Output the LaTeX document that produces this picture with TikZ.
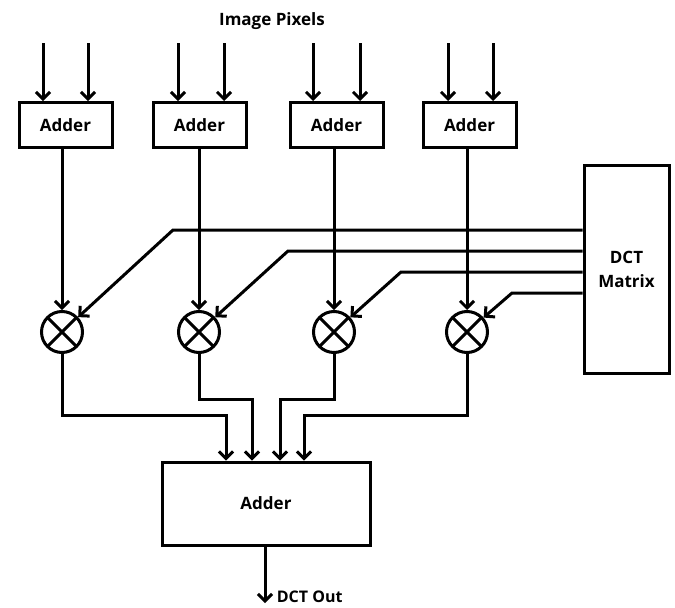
\documentclass[tikz,border=0pt]{standalone}
\usepackage{fontspec}
\setmainfont{Open Sans}
\usetikzlibrary{arrows.meta}

\begin{document}
\begin{tikzpicture}[x = 1pt, y = -1pt, line width = 3pt,
                      font = \fontsize{17}{24}\selectfont\bfseries,
                      >={Straight Barb[length=7pt, width=14pt]},
                      adder/.style = {rectangle, draw, minimum width = 93pt, minimum height = 45pt},
                      mult/.style = {circle, draw, minimum size = 41pt, inner sep = 0pt,
                        path picture = {\draw (path picture bounding box.north west) -- (path picture bounding box.south east)
                                              (path picture bounding box.north east) -- (path picture bounding box.south west);}}]
    \useasboundingbox (0, 0) rectangle (675, 608);
    \node (pix) at (272, 21) {Image Pixels};
    % adders on the pixel inputs
    \node [adder] (a1) at (65.5, 125) {Adder};
    \node [adder] (a2) at (199.5, 125) {Adder};
    \node [adder] (a3) at (336.5, 125) {Adder};
    \node [adder] (a4) at (469.5, 125) {Adder};
    \coordinate (p1) at (43, 43);  \coordinate (p2) at (88, 43);
    \coordinate (p3) at (178, 43); \coordinate (p4) at (224, 43);
    \coordinate (p5) at (313, 43); \coordinate (p6) at (360, 43);
    \coordinate (p7) at (448, 43); \coordinate (p8) at (493, 43);
    \draw [->] (p1) -- (p1 |- a1.north);
    \draw [->] (p2) -- (p2 |- a1.north);
    \draw [->] (p3) -- (p3 |- a2.north);
    \draw [->] (p4) -- (p4 |- a2.north);
    \draw [->] (p5) -- (p5 |- a3.north);
    \draw [->] (p6) -- (p6 |- a3.north);
    \draw [->] (p7) -- (p7 |- a4.north);
    \draw [->] (p8) -- (p8 |- a4.north);
    % multipliers
    \node [mult] (m1) at (62, 332){};
    \node [mult] (m2) at (199, 332){};
    \node [mult] (m3) at (334, 332){};
    \node [mult] (m4) at (467, 332){};
    \draw [->] (m1 |- a1.south) -- (m1);
    \draw [->] (m2 |- a2.south) -- (m2);
    \draw [->] (m3 |- a3.south) -- (m3);
    \draw [->] (m4 |- a4.south) -- (m4);
    % coefficients
    \node [draw, minimum width = 85pt, minimum height = 208pt, align = center] (dct) at (626.5, 269) {DCT\\Matrix};
    \coordinate (k1) at (173, 230);
    \coordinate (k2) at (288, 251);
    \coordinate (k3) at (401, 272);
    \coordinate (k4) at (512, 293);
    \draw [->] (dct.west |- k1) -- (k1) -- (m1);
    \draw [->] (dct.west |- k2) -- (k2) -- (m2);
    \draw [->] (dct.west |- k3) -- (k3) -- (m3);
    \draw [->] (dct.west |- k4) -- (k4) -- (m4);
    % final sum
    \node [adder, minimum width = 208pt, minimum height = 83pt] (s) at (266, 503.5) {Adder};
    \coordinate (j1) at (226, 415);
    \coordinate (j2) at (252, 399);
    \coordinate (j3) at (280, 399);
    \coordinate (j4) at (304, 415);
    \draw [->] (m1) |- (j1) -- (j1 |- s.north);
    \draw [->] (m2) |- (j2) -- (j2 |- s.north);
    \draw [->] (m3) |- (j3) -- (j3 |- s.north);
    \draw [->] (m4) |- (j4) -- (j4 |- s.north);
    \coordinate (out) at (265, 603);
    \draw [->] (s.south -| out) -- (out);
    \node [anchor = west, font = \fontsize{16}{20}\selectfont\bfseries] (lbl) at (272, 597) {DCT Out};
\end{tikzpicture}
\end{document}
